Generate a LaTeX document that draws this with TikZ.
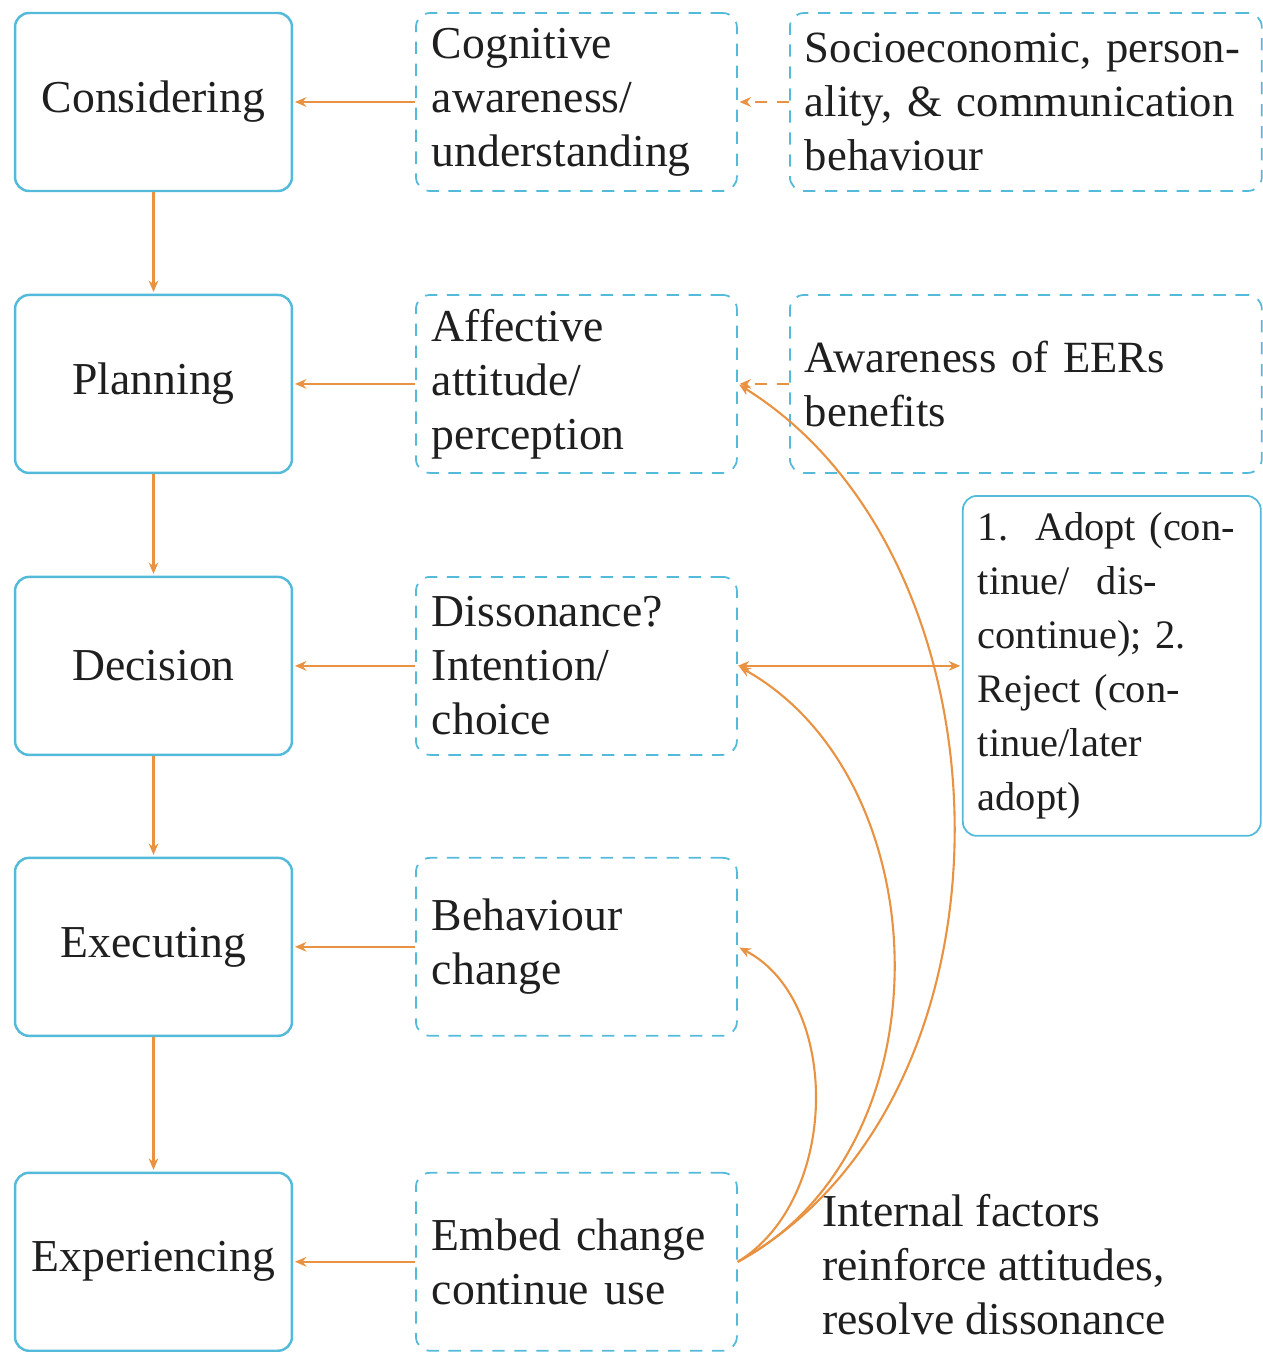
\documentclass[tikz,border=0pt]{standalone}
\usepackage{fontspec}
\setmainfont{Liberation Serif}
\usepackage{tikz}
\usetikzlibrary{arrows,arrows.meta,shapes}
\usetikzlibrary{calc}
\definecolor{eerblue}{RGB}{84,186,218}
\definecolor{eerorange}{RGB}{232,146,66}
\begin{document}
\begin{tikzpicture}[x=0.02cm,y=-0.02cm,->,>={Stealth[length=6.5pt,width=5.5pt]},shorten >=1pt,node distance=5.64cm,
        every node/.style={text=black!88},
        stage/.style={rectangle,rounded corners=8pt,draw=eerblue,line width=1.4pt,
          minimum width=5.54cm,minimum height=3.56cm,align=center,
          font=\fontsize{26}{30.7}\selectfont},
        factor/.style={rectangle,rounded corners=8pt,draw=eerblue,line width=1pt,
          dash pattern=on 7pt off 5.5pt,minimum width=6.42cm,minimum height=3.56cm,
          text width=5.78cm,align=left,font=\fontsize{26}{30.7}\selectfont},
        context/.style={factor,minimum width=9.44cm,text width=8.84cm,
          font=\fontsize{25.4}{30.7}\selectfont},
        outcome/.style={rectangle,rounded corners=8pt,draw=eerblue,line width=1pt,
          minimum width=5.96cm,minimum height=6.8cm,text width=5.36cm,align=left,
          font=\fontsize{23}{30.7}\selectfont},
        link/.style={draw=eerorange,line width=1.2pt}]
        \useasboundingbox (0,0) rectangle (1263,1352);
        % stages
        \node[stage] (consider) at (153.5,102) {Considering};
        \node[stage] (plan) [below of=consider] {Planning};
        \node[stage] (decide) [below of=plan] {Decision};
        \node[stage] (execute) [below of=decide,node distance=5.62cm] {Executing};
        \node[stage] (experience) [below of=execute,node distance=6.3cm] {Experiencing};
        % factors
        \node[factor] (cognitive) [right of=consider,node distance=8.46cm] {Cognitive\\awareness/\\understanding};
        \node[factor] (affective) [right of=plan,node distance=8.46cm] {Affective\\attitude/\\perception};
        \node[factor] (dissonance) [right of=decide,node distance=8.46cm] {Dissonance?\\Intention/\\choice};
        \node[factor] (behaviour) [right of=execute,node distance=8.46cm] {Behaviour\\change};
        \node[factor] (embed) [right of=experience,node distance=8.46cm] {Embed change\\continue use};
        % context
        \node[context] (socio) [right of=cognitive,node distance=8.99cm] {Socioeconomic, person-\\ality, \& communication\\behaviour};
        \node[context] (benefits) [right of=affective,node distance=8.99cm] {Awareness of EERs\\benefits};
        \node[outcome] (result) [right of=dissonance,node distance=10.71cm] {1.\ \ Adopt (con-\\tinue/\ \ dis-\\continue); 2.\\Reject (con-\\tinue/later\\adopt)};
        \node[anchor=west,inner sep=0pt,align=left,font=\fontsize{26}{30.7}\selectfont] (internal) at (822,1265)
          {Internal factors\\reinforce attitudes,\\resolve dissonance};
        \path
          (consider) edge[link] (plan)
          (plan) edge[link] (decide)
          (decide) edge[link] (execute)
          (execute) edge[link] (experience)
          (cognitive) edge[link] (consider)
          (affective) edge[link] (plan)
          (dissonance) edge[link] (decide)
          (behaviour) edge[link] (execute)
          (embed) edge[link] (experience)
          (socio) edge[link,dash pattern=on 7pt off 5.5pt] (cognitive)
          (benefits) edge[link,dash pattern=on 7pt off 5.5pt] (affective)
          (dissonance.east) edge[link,<->] (result.west)
          ;
        \draw[link] (embed.east) .. controls +(103,-63) and +(103,53) .. (behaviour.east);
        \draw[link] (embed.east) .. controls +(213,-113) and +(203,114) .. (dissonance.east);
        \draw[link] (embed.east) .. controls +(293,-163) and +(283,176) .. (affective.east);
      \end{tikzpicture}
\end{document}
